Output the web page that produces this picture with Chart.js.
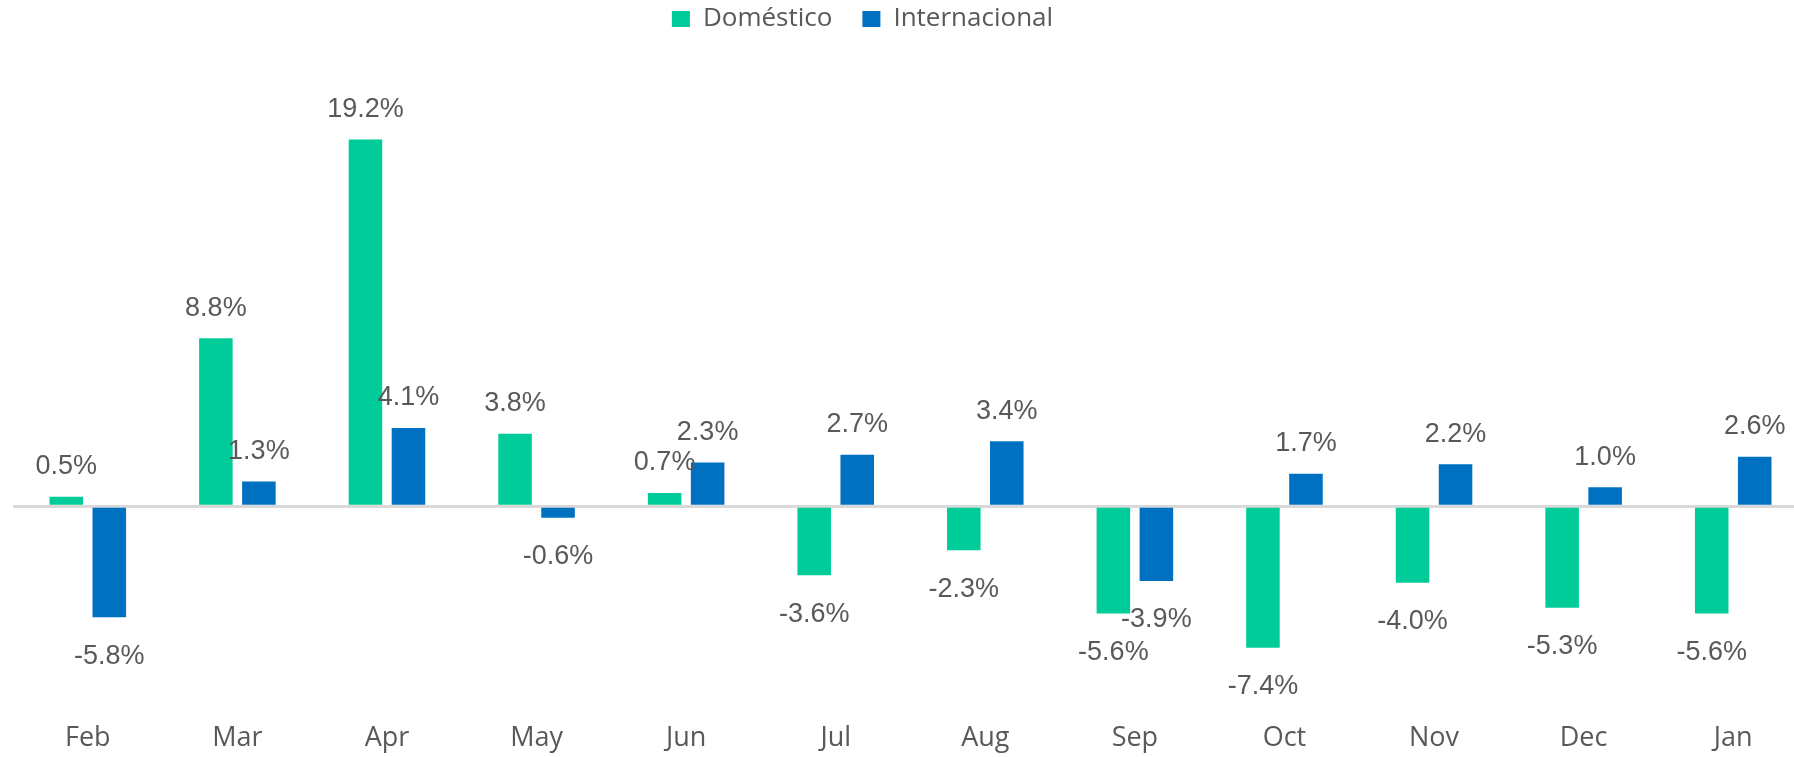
<!DOCTYPE html>
<html>
<head>
<meta charset="utf-8">
<script src="https://cdn.jsdelivr.net/npm/chart.js@4/dist/chart.umd.min.js"></script>
<style>
  html, body { margin: 0; padding: 0; background: #fff; overflow: hidden; }
  #wrap { width: 1808px; height: 757px; }
</style>
</head>
<body>
<div id="wrap"><canvas id="growthChart" width="1808" height="757"></canvas></div>
<script>
// Monthly variation, %
const months = ['Feb', 'Mar', 'Apr', 'May', 'Jun', 'Jul', 'Aug', 'Sep', 'Oct', 'Nov', 'Dec', 'Jan'];
const domestico = [0.5, 8.8, 19.2, 3.8, 0.7, -3.6, -2.3, -5.6, -7.4, -4.0, -5.3, -5.6];
const internacional = [-5.8, 1.3, 4.1, -0.6, 2.3, 2.7, 3.4, -3.9, 1.7, 2.2, 1.0, 2.6];

const GREY = '#595959';

// Value labels at the outer end of every bar
const valueLabels = {
  id: 'valueLabels',
  afterDatasetsDraw(chart) {
    const ctx = chart.ctx;
    ctx.save();
    ctx.font = '27px "Liberation Sans", Arial, sans-serif';
    ctx.fillStyle = GREY;
    ctx.textAlign = 'center';
    ctx.textBaseline = 'middle';
    chart.data.datasets.forEach((ds, di) => {
      const meta = chart.getDatasetMeta(di);
      meta.data.forEach((bar, i) => {
        const v = ds.data[i];
        const y = v >= 0 ? bar.y - 30 : bar.y + 39;
        ctx.fillText(v.toFixed(1) + '%', bar.x, y);
      });
    });
    ctx.restore();
  }
};

// Move the legend up and a little to the left, like the original
const legendNudge = {
  id: 'legendNudge',
  afterLayout(chart) {
    const lg = chart.legend;
    lg.left -= 48; lg.right -= 48;
    lg.top -= 24; lg.bottom -= 24;
  }
};

new Chart(document.getElementById('growthChart'), {
  type: 'bar',
  data: {
    labels: months,
    datasets: [
      {
        label: 'Doméstico',
        data: domestico,
        backgroundColor: '#00CC99',
        categoryPercentage: 0.575,
        barPercentage: 0.78
      },
      {
        label: 'Internacional',
        data: internacional,
        backgroundColor: '#0070C0',
        categoryPercentage: 0.575,
        barPercentage: 0.78
      }
    ]
  },
  options: {
    responsive: false,
    animation: false,
    layout: { padding: { left: 13, right: 0, top: 0, bottom: 0 } },
    plugins: {
      legend: {
        position: 'top',
        labels: {
          boxWidth: 18,
          boxHeight: 16,
          padding: 30,
          color: GREY,
          font: { family: '"Open Sans", sans-serif', size: 26 }
        }
      },
      tooltip: { enabled: false }
    },
    scales: {
      x: {
        grid: { display: false, drawTicks: false },
        border: { display: false },
        ticks: {
          color: GREY,
          padding: 2,
          font: { family: '"Open Sans", sans-serif', size: 27 }
        }
      },
      y: {
        min: -11.21,
        max: 23.04,
        ticks: { display: false, stepSize: 5 },
        border: { display: false },
        grid: {
          drawTicks: false,
          lineWidth: 3,
          color: ctx => (ctx.tick && ctx.tick.value === 0 ? '#D9D9D9' : 'rgba(0,0,0,0)')
        }
      }
    }
  },
  plugins: [valueLabels, legendNudge]
});
</script>
</body>
</html>
